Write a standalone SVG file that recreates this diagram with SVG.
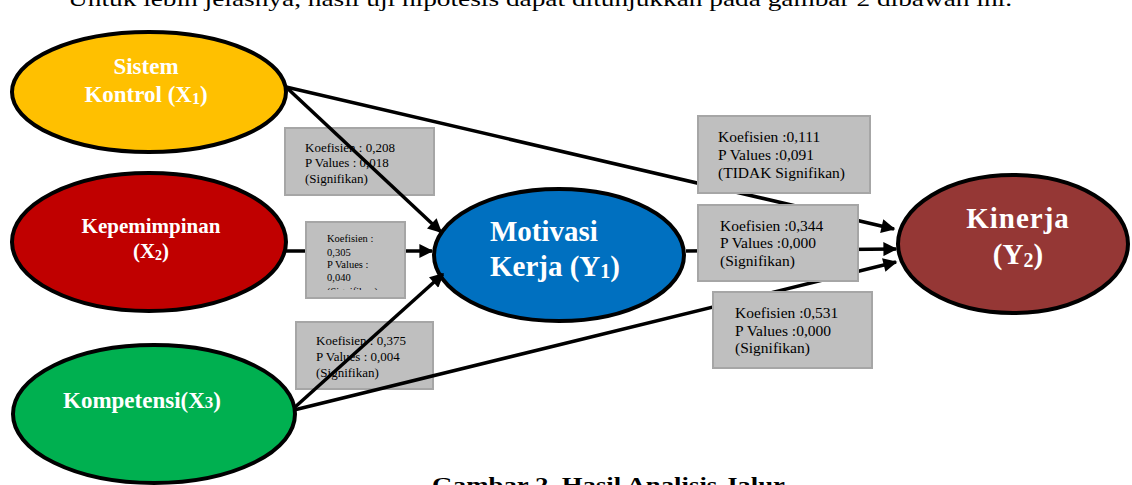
<svg xmlns="http://www.w3.org/2000/svg" width="1132" height="485" viewBox="0 0 1132 485">
<style>
.ell{stroke:#000;stroke-width:4}
.lbl{font-family:"Liberation Serif","Times New Roman",serif;font-weight:bold;fill:#fff}
.box{fill:#bfbfbf;stroke:#a6a6a6;stroke-width:2}
.bt{font-family:"Liberation Serif","Times New Roman",serif;fill:#000}
.con{stroke:#000;stroke-width:3.5;fill:none}
.cap{font-family:"Liberation Serif","Times New Roman",serif;fill:#000}
</style>
<defs>
<marker id="ah" viewBox="0 0 10 10" refX="9" refY="5" markerWidth="4.5" markerHeight="4" orient="auto" markerUnits="strokeWidth">
<path d="M0,0 L10,5 L0,10 z" fill="#000"/>
</marker>
<clipPath id="c2"><rect x="307" y="223" width="97" height="67"/></clipPath>
</defs>
<rect width="1132" height="485" fill="#fff"/>
<text class="cap" x="68" y="6" font-size="22" textLength="944" lengthAdjust="spacingAndGlyphs">Untuk lebih jelasnya, hasil uji hipotesis dapat ditunjukkan pada gambar 2 dibawah ini.</text>

<g id="x1"><ellipse class="ell" cx="149" cy="92" rx="137" ry="60" fill="#ffc000"/>
<text class="lbl" x="146" y="74" font-size="23" text-anchor="middle">Sistem</text>
<text class="lbl" x="146" y="102" font-size="23" text-anchor="middle">Kontrol (X<tspan font-size="16" dy="2">1</tspan><tspan dy="-2">)</tspan></text></g>

<g id="x2"><ellipse class="ell" cx="149" cy="242" rx="137" ry="69" fill="#c00000"/>
<text class="lbl" x="151" y="233" font-size="21" text-anchor="middle">Kepemimpinan</text>
<text class="lbl" x="151" y="258" font-size="21" text-anchor="middle">(X<tspan font-size="14" dy="2">2</tspan><tspan dy="-2">)</tspan></text></g>

<g id="x3"><ellipse class="ell" cx="154" cy="414" rx="141" ry="69" fill="#00b050"/>
<text class="lbl" x="142" y="408" font-size="23" text-anchor="middle">Kompetensi(X<tspan font-size="17">3</tspan>)</text></g>

<g id="y1"><ellipse class="ell" cx="559" cy="255" rx="125" ry="66" fill="#0070c0"/>
<text class="lbl" x="490" y="241" font-size="29">Motivasi</text>
<text class="lbl" x="490" y="276" font-size="29">Kerja (Y<tspan font-size="20" dy="2">1</tspan><tspan dy="-2">)</tspan></text></g>

<g id="y2"><ellipse class="ell" cx="1013" cy="244" rx="115" ry="69" fill="#953735"/>
<text class="lbl" x="1018" y="228" font-size="29" text-anchor="middle" letter-spacing="1">Kinerja</text>
<text class="lbl" x="1018" y="264" font-size="29" text-anchor="middle">(Y<tspan font-size="20" dy="3">2</tspan><tspan dy="-3">)</tspan></text></g>

<g id="b1"><rect class="box" x="285" y="128" width="149" height="67"/>
<text class="bt" font-size="13"><tspan x="305" y="152">Koefisien : 0,208</tspan><tspan x="305" y="167">P Values : 0,018</tspan><tspan x="305" y="183">(Signifikan)</tspan></text></g>

<g id="b3"><rect class="box" x="296" y="322" width="137" height="67"/>
<text class="bt" font-size="13"><tspan x="316" y="345">Koefisien : 0,375</tspan><tspan x="316" y="361">P Values : 0,004</tspan><tspan x="316" y="377">(Signifikan)</tspan></text></g>

<g id="connectors">
<line class="con" x1="286" y1="87" x2="441" y2="232" marker-end="url(#ah)"/>
<line class="con" x1="286" y1="87" x2="894" y2="229" marker-end="url(#ah)"/>
<line class="con" x1="286" y1="251" x2="432" y2="251" marker-end="url(#ah)"/>
<line class="con" x1="294" y1="408" x2="443" y2="274" marker-end="url(#ah)"/>
<line class="con" x1="294" y1="410" x2="896" y2="262" marker-end="url(#ah)"/>
<line class="con" x1="686" y1="251" x2="896" y2="249" marker-end="url(#ah)"/>
</g>

<g id="b2"><rect class="box" x="306" y="222" width="99" height="76"/>
<text class="bt" font-size="10.5" clip-path="url(#c2)"><tspan x="327" y="242">Koefisien :</tspan><tspan x="327" y="256">0,305</tspan><tspan x="327" y="268">P Values :</tspan><tspan x="327" y="281">0,040</tspan><tspan x="327" y="295">(Signifikan)</tspan></text></g>

<g id="b4"><rect class="box" x="698" y="116" width="172" height="77"/>
<text class="bt" font-size="15.5"><tspan x="718" y="142">Koefisien :0,111</tspan><tspan x="718" y="160">P Values :0,091</tspan><tspan x="718" y="178">(TIDAK Signifikan)</tspan></text></g>

<g id="b5"><rect class="box" x="698" y="205" width="160" height="76"/>
<text class="bt" font-size="15.5"><tspan x="720" y="231">Koefisien :0,344</tspan><tspan x="720" y="248">P Values :0,000</tspan><tspan x="720" y="266">(Signifikan)</tspan></text></g>

<g id="b6"><rect class="box" x="713" y="292" width="159" height="76"/>
<text class="bt" font-size="15.5"><tspan x="735" y="318">Koefisien :0,531</tspan><tspan x="735" y="336">P Values :0,000</tspan><tspan x="735" y="353">(Signifikan)</tspan></text></g>

<text class="cap" x="432" y="492" font-size="21" font-weight="bold" textLength="353" lengthAdjust="spacingAndGlyphs">Gambar 2. Hasil Analisis Jalur</text>
</svg>
